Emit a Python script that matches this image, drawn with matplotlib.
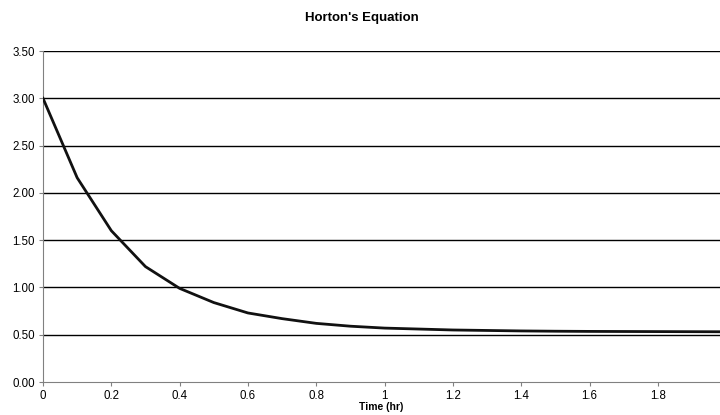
import matplotlib
matplotlib.use("Agg")
import matplotlib.pyplot as plt

# Horton infiltration curve
time_hr = [0.0, 0.1, 0.2, 0.3, 0.4, 0.5, 0.6, 0.7, 0.8, 0.9, 1.0,
           1.1, 1.2, 1.3, 1.4, 1.5, 1.6, 1.7, 1.8, 1.9, 2.0]
rate = [3.00, 2.16, 1.60, 1.22, 0.99, 0.84, 0.73, 0.67, 0.62, 0.59, 0.57,
        0.56, 0.55, 0.545, 0.54, 0.537, 0.535, 0.534, 0.533, 0.532, 0.531]
y_ticks = [0.0, 0.5, 1.0, 1.5, 2.0, 2.5, 3.0, 3.5]
x_ticks = [0, 0.2, 0.4, 0.6, 0.8, 1, 1.2, 1.4, 1.6, 1.8]

plt.rcParams["font.family"] = ["Liberation Sans", "DejaVu Sans"]

fig = plt.figure(figsize=(7.2, 4.15), dpi=100)
ax = fig.add_axes([43 / 720, 1 - 382 / 415, 1 - 43 / 720, (382 - 51) / 415])

for y in y_ticks[1:]:
    ax.axhline(y, color="black", lw=1.0, zorder=1)
ax.plot(time_hr, rate, color="#111111", lw=2.0, zorder=3)

ax.set_xlim(0, 1.982)
ax.set_ylim(0, 3.5)
ax.set_yticks(y_ticks)
ax.set_yticklabels([f"{v:.2f}" for v in y_ticks])
ax.set_xticks(x_ticks)
ax.set_xticklabels([f"{v:g}" for v in x_ticks])
ax.tick_params(labelsize=8.3, length=3, width=0.8, color="#808080", pad=3)

for side in ("top", "right"):
    ax.spines[side].set_visible(False)
for side in ("left", "bottom"):
    ax.spines[side].set_color("#808080")
    ax.spines[side].set_linewidth(0.8)

ax.set_xlabel("Time (hr)", fontsize=7.5, fontweight="bold", labelpad=0)
fig.text(362 / 720, 1 - 18 / 415, "Horton's Equation", ha="center",
         va="center", fontsize=9.5, fontweight="bold")

fig.savefig("out.png", dpi=100)
